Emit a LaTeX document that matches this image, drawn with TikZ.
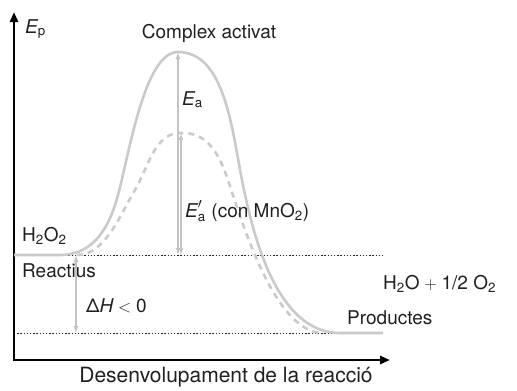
\documentclass[tikz,border=0pt]{standalone}
\usepackage{amsmath}
\usepackage{fontspec}
\setmainfont{TeX Gyre Heros}
\usetikzlibrary{arrows.meta}
\definecolor{epInk}{HTML}{231F20}
\definecolor{epCurve}{HTML}{CACACA}
\definecolor{epArrow}{HTML}{C4C4C4}
\newcommand{\labfont}{\fontsize{19}{22}\selectfont}
\newcommand{\axfont}{\fontsize{21}{24}\selectfont}

\begin{document}
\begin{tikzpicture}[x=1pt,y=-1pt,
 axis/.style={line width=2.6pt,draw=black,line join=miter,
   {Triangle[length=10pt,width=8pt]}-{Triangle[length=10pt,width=8pt]}},
 level/.style={draw=epInk,line width=1pt,dash pattern=on 1.3pt off 1.9pt},
 curve/.style={draw=epCurve,line width=2.6pt},
 catcurve/.style={curve,dash pattern=on 6pt off 5pt},
 arr/.style={draw=epArrow,line width=1.3pt,
   {Latex[length=7pt,width=5pt]}-{Latex[length=7pt,width=5pt]}},
 lbl/.style={inner sep=0pt,anchor=base west,text=epInk,font=\labfont}]
\useasboundingbox (0,0) rectangle (517,391);
% axes
\coordinate (origin) at (14,360);
\coordinate (ytop) at (14,12);
\coordinate (xend) at (390,360);
\draw[axis] (ytop) -- (origin) -- (xend);
% energy levels
\coordinate (reac) at (14,255);
\coordinate (reacend) at (383,255);
\coordinate (prod) at (14,333);
\coordinate (prodend) at (383,333);
\draw[level] (reac) -- (reacend);
\draw[level] (prod) -- (prodend);
% profiles
\coordinate (ts) at (178,52);
\coordinate (tscat) at (181,133);
\draw[curve] (reac) -- (60,255) .. controls (95,255) and (110,225) .. (118,195)
  .. controls (130,150) and (145,52) .. (ts)
  .. controls (225,52) and (232,130) .. (242,180)
  .. controls (252,230) and (275,333) .. (340,333) -- (prodend);
\draw[catcurve] (77,255) .. controls (105,255) and (120,215) .. (135,190)
  .. controls (148,168) and (155,132) .. (tscat)
  .. controls (205,132) and (218,150) .. (228,180)
  .. controls (242,222) and (275,333) .. (323,333);
% arrows
\coordinate (ea) at (178,255);
\coordinate (eacat) at (181,255);
\coordinate (dhtop) at (76,255);
\coordinate (dhbot) at (76,333);
\draw[arr] (ea) -- (ts);
\draw[arr] (eacat) -- (tscat);
\draw[arr] (dhtop) -- (dhbot);
% labels
\node[lbl] (eplbl) at (25,33) {{\itshape E}\textsubscript{p}};
\node[lbl,anchor=base] (tslbl) at (209,38) {Complex activat};
\node[lbl] (ealbl) at (182,105) {{\itshape E}\textsubscript{a}};
\node[lbl] (eacatlbl) at (185,217) {$\text{\itshape E}^{\prime}_{\text{a}}$\hspace{0.3em}(con MnO\textsubscript{2})};
\node[lbl] (h2o2) at (22,241) {H\textsubscript{2}O\textsubscript{2}};
\node[lbl] (reactius) at (22,277) {Reactius};
\node[lbl] (dhlbl) at (86,312) {Δ{\itshape H}$\;<\;$0};
\node[lbl] (prodform) at (383,289) {H\textsubscript{2}O$\;+\;$1/2 O\textsubscript{2}};
\node[lbl] (productes) at (347,324) {Productes};
\node[lbl,anchor=base,font=\axfont] (xlbl) at (226,382) {Desenvolupament de la reacció};
\end{tikzpicture}
\end{document}
